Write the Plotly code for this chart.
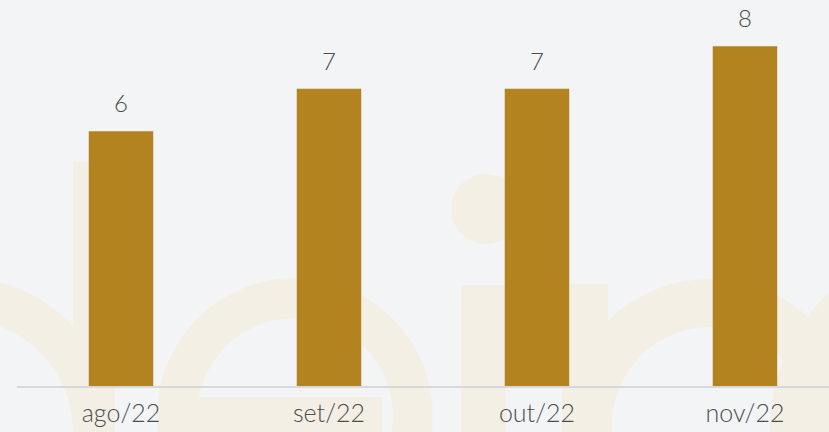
import plotly.graph_objects as go

# ---- data ----
months = ["ago/22", "set/22", "out/22", "nov/22"]
values = [6, 7, 7, 8]
labels = ["6", "7", "7", "8"]

BAR = "#b3831f"
BG = "#f3f4f6"
WM = "#f3efe4"
TXT = "#4d4d4d"
FONT = "Lato"

W, H = 829, 432
ML, MR, MT, MB = 17, 0, 0, 46
PW = W - ML - MR
PH = H - MT - MB


def px(x):
    return (x - ML) / PW


def py(y):
    return (MT + PH - y) / PH


shapes = []


def ring(cx, cy, rin, rout):
    r = (rin + rout) / 2
    shapes.append(dict(type="circle", xref="paper", yref="paper",
                       x0=px(cx - r), x1=px(cx + r), y0=py(cy + r), y1=py(cy - r),
                       line=dict(color=WM, width=rout - rin), fillcolor="rgba(0,0,0,0)",
                       layer="below"))


def rect(x0, y0, x1, y1):
    shapes.append(dict(type="rect", xref="paper", yref="paper",
                       x0=px(x0), x1=px(x1), y0=py(y1), y1=py(y0),
                       line=dict(width=0), fillcolor=WM, layer="below"))


def disc(cx, cy, r):
    shapes.append(dict(type="circle", xref="paper", yref="paper",
                       x0=px(cx - r), x1=px(cx + r), y0=py(cy + r), y1=py(cy - r),
                       line=dict(width=0), fillcolor=WM, layer="below"))


# decorative watermark letters
ring(-40, 432, 113, 155)      # d bowl
rect(73, 162, 115, 440)       # d stem
ring(295, 416, 98, 138)       # e
rect(197, 397, 382, 440)      # e bar
disc(486, 209, 35)            # i dot
rect(461, 285, 506, 440)      # i stem
rect(562, 284, 608, 440)      # n stem
ring(710, 425, 98, 146)       # n arch
ring(960, 430, 150, 190)      # next letter

fig = go.Figure()
fig.add_trace(go.Bar(x=months, y=values, marker=dict(color=BAR, line=dict(width=0)),
                     width=0.31, hoverinfo="skip"))

annotations = []
for m, v, t in zip(months, values, labels):
    annotations.append(dict(x=m, y=v, xref="x", yref="y", text=t, showarrow=False,
                            yanchor="bottom", yshift=12,
                            font=dict(family=FONT, size=24, color=TXT, weight=300)))

fig.update_layout(
    width=W, height=H,
    margin=dict(l=ML, r=MR, t=MT, b=MB),
    paper_bgcolor=BG, plot_bgcolor="rgba(0,0,0,0)",
    showlegend=False,
    shapes=shapes,
    annotations=annotations,
    xaxis=dict(range=[-0.5, 3.404], showgrid=False, zeroline=False,
               showline=True, linecolor="#d8d8d8", linewidth=2,
               ticks="", ticklabelstandoff=4,
               tickfont=dict(family=FONT, size=25, color=TXT, weight=300)),
    yaxis=dict(range=[0, 9.09], visible=False, showgrid=False, zeroline=False),
)

fig.write_html("out.html", config=dict(displayModeBar=False),
               post_script="document.body.style.margin='0';document.body.style.overflow='hidden';")
